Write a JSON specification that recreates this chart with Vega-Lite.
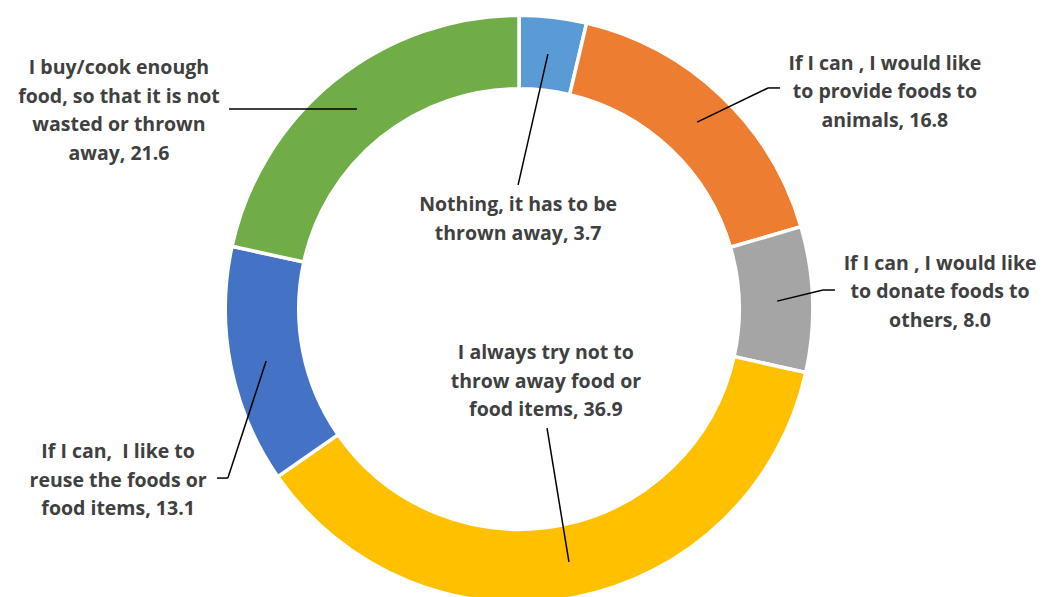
{
  "$schema": "https://vega.github.io/schema/vega-lite/v6.json",
  "width": 1038,
  "height": 576,
  "autosize": {"type": "none"},
  "padding": {"left": 0, "top": 21, "right": 15, "bottom": 0},
  "background": "white",
  "config": {
    "view": {"stroke": null},
    "text": {"font": "Open Sans", "fontWeight": "bold", "fontSize": 19.5, "color": "#404040", "lineBreak": "\n", "lineHeight": 28.5, "align": "center", "baseline": "middle"}
  },
  "data": {
    "values": [
      {"idx": 1, "category": "Nothing, it has to be thrown away", "value": 3.7, "label": "Nothing, it has to be\nthrown away, 3.7"},
      {"idx": 2, "category": "If I can , I would like to provide foods to animals", "value": 16.8, "label": "If I can , I would like\nto provide foods to\nanimals, 16.8"},
      {"idx": 3, "category": "If I can , I would like to donate foods to others", "value": 8.0, "label": "If I can , I would like\nto donate foods to\nothers, 8.0"},
      {"idx": 4, "category": "I always try not to throw away food or food items", "value": 36.9, "label": "I always try not to\nthrow away food or\nfood items, 36.9"},
      {"idx": 5, "category": "If I can,  I like to reuse the foods or food items", "value": 13.1, "label": "If I can, \u00a0I like to\nreuse the foods or\nfood items, 13.1"},
      {"idx": 6, "category": "I buy/cook enough food, so that it is not wasted or thrown away", "value": 21.6, "label": "I buy/cook enough\nfood, so that it is not\nwasted or thrown\naway, 21.6"}
    ]
  },
  "layer": [
    {
      "mark": {"type": "arc", "radius": 293.75, "radius2": 220.25, "stroke": "white", "strokeWidth": 3.5},
      "encoding": {
        "theta": {"field": "value", "type": "quantitative", "stack": true},
        "order": {"field": "idx", "type": "quantitative"},
        "color": {
          "field": "category",
          "type": "nominal",
          "legend": null,
          "scale": {
            "domain": [
              "Nothing, it has to be thrown away",
              "If I can , I would like to provide foods to animals",
              "If I can , I would like to donate foods to others",
              "I always try not to throw away food or food items",
              "If I can,  I like to reuse the foods or food items",
              "I buy/cook enough food, so that it is not wasted or thrown away"
            ],
            "range": ["#5B9BD5", "#ED7D31", "#A5A5A5", "#FFC000", "#4472C4", "#70AD47"]
          }
        }
      }
    },
    {
      "transform": [{"filter": "datum.idx == 1"}],
      "layer": [
        {
          "mark": {"type": "rule", "color": "#000000", "strokeWidth": 1.5},
          "encoding": {
            "x": {"datum": 0.099, "type": "quantitative", "axis": null, "scale": {"domain": [-1.7774, 1.7774], "nice": false, "zero": false}},
            "y": {"datum": 0.873, "type": "quantitative", "axis": null, "scale": {"domain": [-0.9863, 0.9863], "nice": false, "zero": false}},
            "x2": {"datum": -0.003},
            "y2": {"datum": 0.425}
          }
        },
        {
          "mark": {"type": "text"},
          "encoding": {
            "x": {"datum": -0.003, "type": "quantitative"},
            "y": {"datum": 0.356, "type": "quantitative"},
            "text": {"field": "label", "type": "nominal"}
          }
        }
      ]
    },
    {
      "transform": [{"filter": "datum.idx == 2"}],
      "layer": [
        {
          "mark": {"type": "rule", "color": "#000000", "strokeWidth": 1.5},
          "encoding": {
            "x": {"datum": 0.610, "type": "quantitative"},
            "y": {"datum": 0.640, "type": "quantitative"},
            "x2": {"datum": 0.853},
            "y2": {"datum": 0.757}
          }
        },
        {
          "mark": {"type": "rule", "color": "#000000", "strokeWidth": 1.5},
          "encoding": {
            "x": {"datum": 0.853, "type": "quantitative"},
            "y": {"datum": 0.757, "type": "quantitative"},
            "x2": {"datum": 0.894},
            "y2": {"datum": 0.757}
          }
        },
        {
          "mark": {"type": "text"},
          "encoding": {
            "x": {"datum": 1.253, "type": "quantitative"},
            "y": {"datum": 0.84, "type": "quantitative"},
            "text": {"field": "label", "type": "nominal"}
          }
        }
      ]
    },
    {
      "transform": [{"filter": "datum.idx == 3"}],
      "layer": [
        {
          "mark": {"type": "rule", "color": "#000000", "strokeWidth": 1.5},
          "encoding": {
            "x": {"datum": 0.884, "type": "quantitative"},
            "y": {"datum": 0.027, "type": "quantitative"},
            "x2": {"datum": 1.041},
            "y2": {"datum": 0.065}
          }
        },
        {
          "mark": {"type": "rule", "color": "#000000", "strokeWidth": 1.5},
          "encoding": {
            "x": {"datum": 1.041, "type": "quantitative"},
            "y": {"datum": 0.065, "type": "quantitative"},
            "x2": {"datum": 1.082},
            "y2": {"datum": 0.065}
          }
        },
        {
          "mark": {"type": "text"},
          "encoding": {
            "x": {"datum": 1.442, "type": "quantitative"},
            "y": {"datum": 0.155, "type": "quantitative"},
            "text": {"field": "label", "type": "nominal"}
          }
        }
      ]
    },
    {
      "transform": [{"filter": "datum.idx == 4"}],
      "layer": [
        {
          "mark": {"type": "rule", "color": "#000000", "strokeWidth": 1.5},
          "encoding": {
            "x": {"datum": 0.096, "type": "quantitative"},
            "y": {"datum": -0.408, "type": "quantitative"},
            "x2": {"datum": 0.171},
            "y2": {"datum": -0.866}
          }
        },
        {
          "mark": {"type": "text"},
          "encoding": {
            "x": {"datum": 0.092, "type": "quantitative"},
            "y": {"datum": -0.151, "type": "quantitative"},
            "text": {"field": "label", "type": "nominal"}
          }
        }
      ]
    },
    {
      "transform": [{"filter": "datum.idx == 5"}],
      "layer": [
        {
          "mark": {"type": "rule", "color": "#000000", "strokeWidth": 1.5},
          "encoding": {
            "x": {"datum": -0.866, "type": "quantitative"},
            "y": {"datum": -0.178, "type": "quantitative"},
            "x2": {"datum": -0.997},
            "y2": {"datum": -0.579}
          }
        },
        {
          "mark": {"type": "rule", "color": "#000000", "strokeWidth": 1.5},
          "encoding": {
            "x": {"datum": -0.997, "type": "quantitative"},
            "y": {"datum": -0.579, "type": "quantitative"},
            "x2": {"datum": -1.034},
            "y2": {"datum": -0.579}
          }
        },
        {
          "mark": {"type": "text"},
          "encoding": {
            "x": {"datum": -1.373, "type": "quantitative"},
            "y": {"datum": -0.490, "type": "quantitative"},
            "text": {"field": "label", "type": "nominal"}
          }
        }
      ]
    },
    {
      "transform": [{"filter": "datum.idx == 6"}],
      "layer": [
        {
          "mark": {"type": "rule", "color": "#000000", "strokeWidth": 1.5},
          "encoding": {
            "x": {"datum": -0.993, "type": "quantitative"},
            "y": {"datum": 0.685, "type": "quantitative"},
            "x2": {"datum": -0.555},
            "y2": {"datum": 0.685}
          }
        },
        {
          "mark": {"type": "text"},
          "encoding": {
            "x": {"datum": -1.370, "type": "quantitative"},
            "y": {"datum": 0.825, "type": "quantitative"},
            "text": {"field": "label", "type": "nominal"}
          }
        }
      ]
    }
  ]
}
